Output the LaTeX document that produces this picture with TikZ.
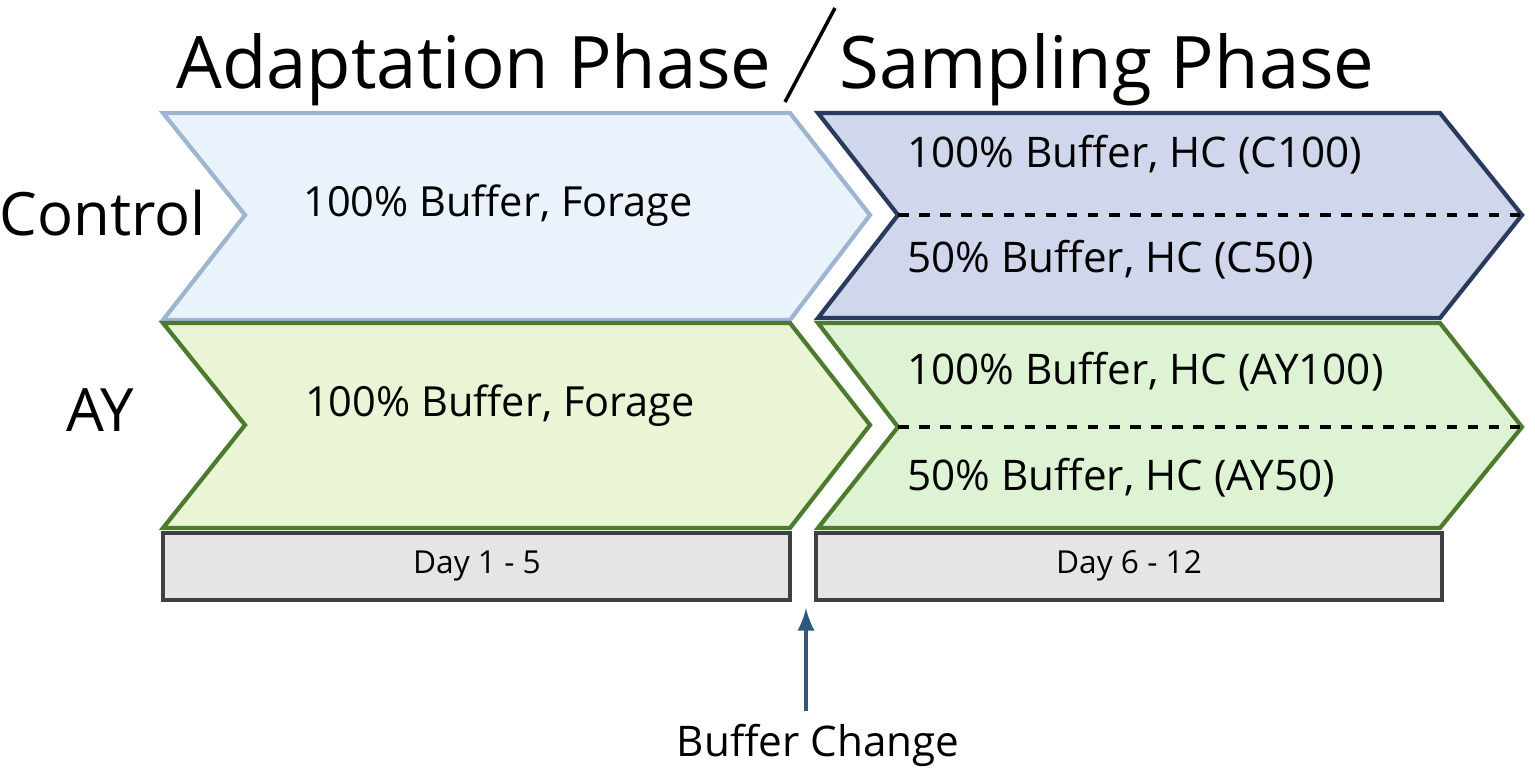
\documentclass[tikz,border=0pt]{standalone}
\usepackage{fontspec}
\setmainfont{Open Sans}
\definecolor{ctrlfill}{HTML}{EAF3FB}
\definecolor{ctrldraw}{HTML}{9DB5D0}
\definecolor{ayfill}{HTML}{EAF5D6}
\definecolor{aydraw}{HTML}{4E7A2E}
\definecolor{sctrlfill}{HTML}{D0D6EB}
\definecolor{sctrldraw}{HTML}{2A3A5E}
\definecolor{sayfill}{HTML}{DDF3D3}
\definecolor{arrowcol}{HTML}{2D5A7A}
\tikzset{
  chev/.style={line width=1.2pt, line join=miter},
  daybar/.style={draw=black!75, fill=black!10, line width=1pt},
  inner/.style={font=\fontsize{12}{14}\selectfont, anchor=west},
}
\begin{document}
\begin{tikzpicture}[x=0.01cm,y=-0.01cm]
\useasboundingbox (0,0) rectangle (1535,772);
% adaptation chevrons
\draw[chev, fill=ctrlfill, draw=ctrldraw] (163,113) -- (790,113) -- (870,215) -- (790,320) -- (163,320) -- (245,215) -- cycle;
\draw[chev, fill=ayfill, draw=aydraw] (163,323) -- (790,323) -- (870,425) -- (790,528) -- (163,528) -- (245,425) -- cycle;
% sampling chevrons
\draw[chev, fill=sctrlfill, draw=sctrldraw] (818,113) -- (1440,113) -- (1522,215) -- (1440,318) -- (818,318) -- (898,215) -- cycle;
\draw[chev, fill=sayfill, draw=aydraw] (818,323) -- (1440,323) -- (1522,427) -- (1440,528) -- (818,528) -- (898,427) -- cycle;
\draw[dashed, line width=1pt] (898,215) -- (1522,215);
\draw[dashed, line width=1pt] (898,427) -- (1522,427);
% titles
\node (adapt) at (474,70) {\fontsize{20.6}{24}\selectfont Adaptation Phase};
\node (samp) at (1107,70) {\fontsize{20.6}{24}\selectfont Sampling Phase};
\draw[line width=1pt] (785,102) -- (835,8);
\node (ctrl) at (103,213) {\fontsize{17}{20}\selectfont Control};
\node (ay) at (100,410) {\fontsize{17}{20}\selectfont AY};
% texts
\node (ctrlA) at (498,206) {\fontsize{11.8}{14}\selectfont 100\% Buffer, Forage};
\node (ayA) at (500,406) {\fontsize{11.8}{14}\selectfont 100\% Buffer, Forage};
\node[inner] (c100) at (895,155) {100\% Buffer, HC (C100)};
\node[inner] (c50) at (895,260) {50\% Buffer, HC (C50)};
\node[inner] (ay100) at (895,372) {100\% Buffer, HC (AY100)};
\node[inner] (ay50) at (895,478) {50\% Buffer, HC (AY50)};
% day bars
\draw[daybar] (163,533) rectangle (790,600);
\draw[daybar] (816,533) rectangle (1442,600);
\node (day1) at (477,566) {\fontsize{9}{11}\selectfont Day 1 - 5};
\node (day6) at (1129,566) {\fontsize{9}{11}\selectfont Day 6 - 12};
% buffer change
\node (change) at (818,745) {\fontsize{12}{14}\selectfont Buffer Change};
\coordinate (tip) at (806,608);
\draw[-latex, arrowcol, line width=1.2pt] (change.north -| tip) -- (tip);
\end{tikzpicture}
\end{document}
